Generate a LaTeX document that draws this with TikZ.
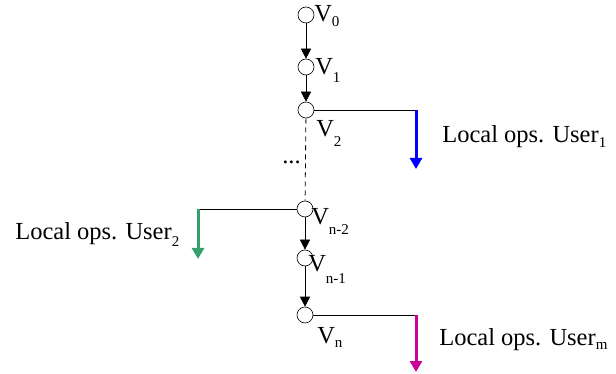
\documentclass[tikz,border=0pt]{standalone}
\usepackage{fontspec}
\setmainfont{Liberation Serif}
\usetikzlibrary{positioning}
\usetikzlibrary{arrows,arrows.meta}
\definecolor{userone}{RGB}{0,0,255}
\definecolor{usertwo}{RGB}{51,160,110}
\definecolor{userm}{RGB}{204,0,153}
\newcommand{\lsub}[2][0.3em]{\raisebox{-#1}{\fontsize{15}{15}\selectfont #2}}
\newcommand{\lblfont}{\fontsize{24.5}{29}\selectfont}
\tikzset{
c/.style={
  circle,
  inner sep=0pt,
  minimum size=16pt,
  draw=black,
  fill=white
  },
lbl/.style={
  inner sep=0pt,
  anchor=base west,
  font=\lblfont
  },
ops/.style={
  line width=3pt,
  -{Triangle[length=11pt,width=12pt]}
  }
}

\begin{document}
\begin{tikzpicture}[x=1pt,y=-1pt,>={Triangle[length=10pt,width=10pt]},semithick]
        \useasboundingbox (0,0) rectangle (616,374);
        \node[c] at (306,15) (v0) {};
        \node[c] at (306,67) (v1) {};
        \node[c] at (306,110) (v2) {};
        \node[c] at (305,209) (vn2) {};
        \node[c] at (305,258) (vn1) {};
        \node[c] at (305,315) (vn) {};
        \node[lbl] at (314,22) (l0) {V\lsub[0.2em]{0}};
        \node[lbl] at (315,75) (l1) {V\lsub{1}};
        \node[lbl] at (316,137) (l2) {V\lsub[0.4em]{2}};
        \node[lbl] at (311,225) (ln2) {V\lsub[0.4em]{n-2}};
        \node[lbl] at (308,272) (ln1) {V\lsub[0.45em]{n-1}};
        \node[lbl] at (317,343) (ln) {V\lsub[0.2em]{n}};
        \node[lbl] at (282,164) (dots) {...};
        \coordinate (c1) at (416,110);
        \coordinate (e1) at (416,169);
        \coordinate (c2) at (198,209);
        \coordinate (e2) at (198,259);
        \coordinate (cm) at (416,315);
        \coordinate (em) at (416,372);
        \node[lbl] at (442,143) (u1) {Local ops. User\lsub[0.2em]{1}};
        \node[lbl] at (15,240) (u2) {Local ops. User\lsub[0.25em]{2}};
        \node[lbl] at (439,345) (um) {Local ops. User\lsub[0.2em]{m}};
        \path[->]
        (v0) edge [] node {} (v1)
        (v1) edge [] node {} (v2)
        (vn2) edge [] node {} (vn1)
        (vn1) edge [] node {} (vn)
        ;
        \draw[thick,dash pattern=on 5pt off 4pt] (v2) -- (vn2);
        \draw (v2) -- (c1);
        \draw (vn2) -- (c2);
        \draw (vn) -- (cm);
        \draw[ops,userone] (c1) -- (e1);
        \draw[ops,usertwo] (c2) -- (e2);
        \draw[ops,userm] (cm) -- (em);
    \end{tikzpicture}
\end{document}
